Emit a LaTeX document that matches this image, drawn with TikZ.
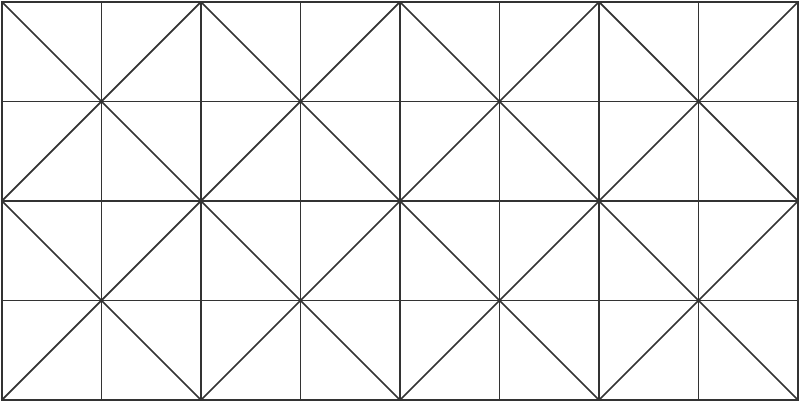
\documentclass[tikz,border=0pt]{standalone}
\usepackage{tikz}

\begin{document}
\begin{tikzpicture}[x=1cm,y=1cm,
                    grid line/.style={draw=black!80,line width=0.5pt}]
  \useasboundingbox (-0.02,-0.02) rectangle (8.02,4.02);

  % square grid
  \draw[grid line] (0,0) grid (8,4);
  \draw[grid line] (0,0) rectangle (8,4);

  % diagonals
  \begin{scope}
    \clip (0,0) rectangle (8,4);
    \foreach \c in {-4,-2,...,8}
      \draw[grid line] (\c,0) -- ++(4,4);
    \foreach \c in {0,2,...,12}
      \draw[grid line] (\c,0) -- ++(-4,4);
  \end{scope}
\end{tikzpicture}
\end{document}
